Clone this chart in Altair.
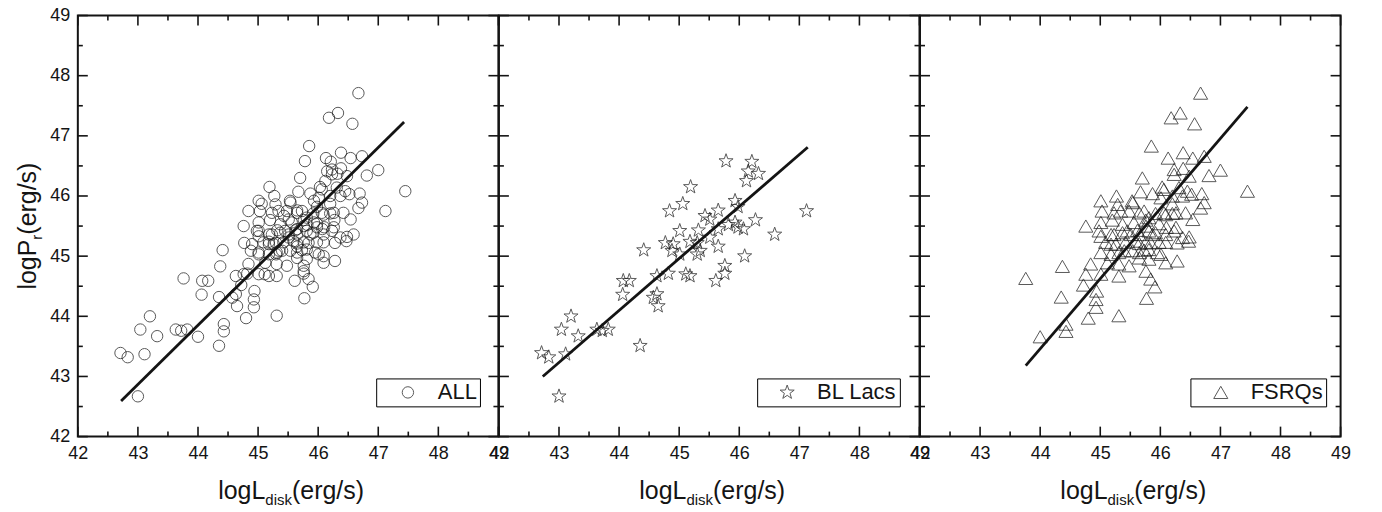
import math
import altair as alt
import pandas as pd

FONT = "Liberation Sans"
INK = "#141414"

# BL Lacs: log disk luminosity vs log radio power
bl_x = [42.71, 42.83, 43.11, 43.00, 43.20, 43.04, 43.32, 43.63, 43.72, 43.82,
        44.07, 44.17, 44.06, 44.35, 44.41, 44.63, 44.82, 44.63, 44.57, 44.65,
        44.77, 44.90, 44.88, 45.01, 45.18, 45.30, 45.35, 45.30, 45.51, 45.65,
        44.84, 45.06, 45.19, 45.01, 45.32, 45.11, 45.18, 45.76, 45.76, 45.61,
        45.43, 45.51, 45.65, 45.65, 45.93, 45.98, 45.93, 45.82, 45.98, 46.07,
        46.09, 46.27, 46.59, 47.12, 45.78, 46.21, 46.15, 46.32, 46.12]
bl_y = [43.39, 43.32, 43.37, 42.67, 44.00, 43.78, 43.67, 43.78, 43.76, 43.78,
        44.59, 44.59, 44.36, 43.51, 45.10, 44.67, 44.71, 44.37, 44.31, 44.17,
        45.22, 45.20, 45.09, 45.03, 45.24, 45.22, 45.09, 45.03, 45.31, 45.16,
        45.75, 45.87, 46.15, 45.42, 45.43, 44.70, 44.67, 44.84, 44.71, 44.59,
        45.67, 45.61, 45.76, 45.45, 45.92, 45.82, 45.56, 45.52, 45.48, 45.45,
        45.00, 45.60, 45.36, 45.75, 46.58, 46.57, 46.41, 46.37, 46.25]

# FSRQs
fsrq_x = [46.67, 46.18, 46.33, 46.57, 45.85, 47.00, 47.45, 46.81, 46.73, 46.54,
          46.38, 46.13, 45.01, 45.27, 45.29, 45.03, 45.54, 45.67, 45.87, 46.03,
          46.20, 46.37, 46.52, 46.69, 46.73, 46.67, 46.54, 46.42, 46.20, 46.06,
          45.92, 45.81, 45.65, 45.48, 45.23, 45.01, 45.20, 45.37, 44.76, 44.98,
          45.01, 45.23, 45.45, 45.65, 45.76, 45.87, 45.98, 46.10, 46.26, 46.37,
          46.47, 46.09, 45.98, 45.76, 45.59, 45.42, 45.26, 45.09, 45.01, 45.18,
          45.31, 45.54, 45.65, 45.81, 45.95, 46.01, 46.09, 46.28, 45.81, 45.65,
          45.48, 45.31, 45.12, 44.84, 44.37, 44.76, 45.01, 45.31, 45.76, 45.84,
          45.91, 45.77, 43.76, 44.72, 44.94, 44.93, 44.93, 44.35, 44.80, 45.31,
          44.43, 44.43, 44.00, 46.23, 46.48, 46.38, 46.23, 46.06, 46.31, 46.45,
          45.53, 46.01, 46.20, 45.70, 45.34, 45.56, 45.73, 45.76, 46.09, 46.26,
          45.18, 45.37, 45.51, 45.62, 45.81, 45.92, 46.09, 46.23, 46.48, 46.28,
          45.84, 45.65, 45.18, 45.40, 45.73]
fsrq_y = [47.71, 47.30, 47.38, 47.20, 46.83, 46.43, 46.08, 46.34, 46.66, 46.63,
          46.72, 46.63, 45.92, 46.00, 45.86, 45.75, 45.89, 46.07, 46.04, 46.15,
          45.87, 46.00, 46.03, 46.04, 45.89, 45.80, 45.61, 45.72, 45.71, 45.72,
          45.71, 45.64, 45.72, 45.75, 45.72, 45.56, 45.60, 45.53, 45.50, 45.42,
          45.33, 45.36, 45.42, 45.36, 45.50, 45.36, 45.54, 45.48, 45.48, 45.31,
          45.25, 45.23, 45.23, 45.23, 45.25, 45.23, 45.20, 45.23, 45.06, 45.03,
          45.06, 45.09, 45.06, 45.11, 45.06, 45.03, 44.89, 44.92, 44.95, 44.97,
          44.84, 44.87, 44.89, 44.87, 44.83, 44.70, 44.70, 44.67, 44.75, 44.62,
          44.49, 44.30, 44.63, 44.52, 44.42, 44.28, 44.15, 44.32, 43.97, 44.01,
          43.87, 43.75, 43.66, 46.36, 46.33, 46.46, 46.44, 46.11, 46.14, 46.08,
          45.92, 45.97, 46.00, 46.30, 45.75, 45.56, 45.75, 45.60, 45.69, 45.72,
          45.36, 45.39, 45.36, 45.43, 45.42, 45.39, 45.36, 45.42, 45.32, 45.22,
          45.22, 45.21, 45.20, 45.09, 45.10]

# The whole sample is both classes together
all_x = bl_x + fsrq_x
all_y = bl_y + fsrq_y

# End points of the fitted straight lines
all_fit_x = [42.72, 47.43]
all_fit_y = [42.59, 47.23]
bl_fit_x = [42.73, 47.14]
bl_fit_y = [43.00, 46.81]
fsrq_fit_x = [43.76, 47.45]
fsrq_fit_y = [43.18, 47.48]

major_ticks = [42, 43, 44, 45, 46, 47, 48, 49]
minor_ticks = [42.5, 43.5, 44.5, 45.5, 46.5, 47.5, 48.5]

W = 421.5
H = 422
TITLE = 25
SUB = 15

STAR = ("M0,-1L0.235,-0.324L0.951,-0.309L0.380,0.124L0.588,0.809L0,0.4"
        "L-0.588,0.809L-0.380,0.124L-0.951,-0.309L-0.235,-0.324Z")

xscale = alt.Scale(domain=[42, 49], nice=False, zero=False)
yscale = alt.Scale(domain=[42, 49], nice=False, zero=False)


def label_axis():
    return alt.Axis(values=major_ticks, format="d", ticks=False, domain=False,
                    grid=False, labelFont=FONT, labelFontSize=18, labelColor=INK,
                    labelPadding=8, labelFlush=False, title=None)


def enc_x(field):
    return alt.X(field, scale=xscale, axis=label_axis())


def enc_y(field, show):
    return alt.Y(field, scale=yscale, axis=label_axis() if show else None)


def text_layer(txt, x, y, size, align, angle=0):
    return alt.Chart(pd.DataFrame({"t": [txt]})).mark_text(
        font=FONT, fontSize=size, align=align, baseline="alphabetic",
        angle=angle, color=INK
    ).encode(x=alt.value(x), y=alt.value(y), text="t:N")


def tick_layers(vals, length, show_y):
    base = alt.Chart(pd.DataFrame({"v": vals})).mark_rule(color=INK, strokeWidth=1.6)
    xv = enc_x("v:Q")
    yv = enc_y("v:Q", show_y)
    return [
        base.encode(x=xv, y=alt.value(H), y2=alt.value(H - length)),
        base.encode(x=xv, y=alt.value(0), y2=alt.value(length)),
        base.encode(y=yv, x=alt.value(0), x2=alt.value(length)),
        base.encode(y=yv, x=alt.value(W), x2=alt.value(W - length)),
    ]


def spacer(x, y):
    return alt.Chart(pd.DataFrame({"t": [0]})).mark_rect(opacity=0).encode(
        x=alt.value(x), x2=alt.value(x + 1), y=alt.value(y), y2=alt.value(y + 1))


def panel(xs, ys, fx, fy, name, shape, size, legend_x, first=False, last=False):
    pts_df = pd.DataFrame({"x": xs, "y": ys, "s": name})
    side = math.sqrt(size)
    sym_off = 23.5 - side / 2
    legend = alt.Legend(
        title=None, orient="none", legendX=legend_x, legendY=363.7,
        strokeColor="black", fillColor="white", padding=3, cornerRadius=0,
        labelFont=FONT, labelFontSize=22, labelColor=INK,
        symbolType=shape, symbolSize=size, symbolStrokeWidth=1.0,
        symbolStrokeColor=INK, symbolFillColor="transparent",
        symbolOffset=sym_off, labelOffset=19,
    )
    pts = alt.Chart(pts_df).mark_point(
        shape=shape, filled=False, size=size, strokeWidth=1.0
    ).encode(
        x=enc_x("x:Q"),
        y=enc_y("y:Q", first),
        color=alt.Color("s:N", scale=alt.Scale(domain=[name], range=[INK]), legend=legend),
    )
    fit = alt.Chart(pd.DataFrame({"x": fx, "y": fy})).mark_line(
        color=INK, strokeWidth=2.8
    ).encode(x=enc_x("x:Q"), y=enc_y("y:Q", first))

    layers = (tick_layers(major_ticks, 10, first)
              + tick_layers(minor_ticks, 5, first) + [pts, fit])

    # x title: logL with subscript "disk"
    w_main = 1.89 * TITLE
    w_sub = 1.778 * SUB
    w_tail = 2.889 * TITLE
    a = W / 2 + 3 - (w_main + w_sub + w_tail) / 2 + w_main
    layers += [
        text_layer("logL", a, 485, TITLE, "right"),
        text_layer("disk", a, 491, SUB, "left"),
        text_layer("(erg/s)", a + w_sub, 485, TITLE, "left"),
    ]
    if first:
        # y title: logP with subscript "r", read bottom to top
        w_p = 2.001 * TITLE
        w_r = 0.333 * SUB
        b = H / 2 + (w_p + w_r + w_tail) / 2 - w_p
        layers += [
            text_layer("logP", -42, b, TITLE, "right", 270),
            text_layer("r", -36, b, SUB, "left", 270),
            text_layer("(erg/s)", -42, b - w_r, TITLE, "left", 270),
            spacer(-77, -14),
        ]
    if last:
        layers.append(spacer(W + 39.5, H + 75))
    return alt.layer(*layers).properties(width=W, height=H)


p_all = panel(all_x, all_y, all_fit_x, all_fit_y, "ALL", "circle", 130, 299, first=True)
p_bl = panel(bl_x, bl_y, bl_fit_x, bl_fit_y, "BL Lacs", STAR, 220, 258.8)
p_fsrq = panel(fsrq_x, fsrq_y, fsrq_fit_x, fsrq_fit_y, "FSRQs", "triangle-up", 200, 271, last=True)

chart = alt.hconcat(
    p_all, p_bl, p_fsrq, spacing=0, bounds="flush"
).resolve_scale(
    color="independent"
).properties(
    padding=0, background="white"
).configure_view(
    stroke=INK, strokeWidth=2
)

chart.save("out.html", embed_options={"renderer": "svg", "actions": False})
